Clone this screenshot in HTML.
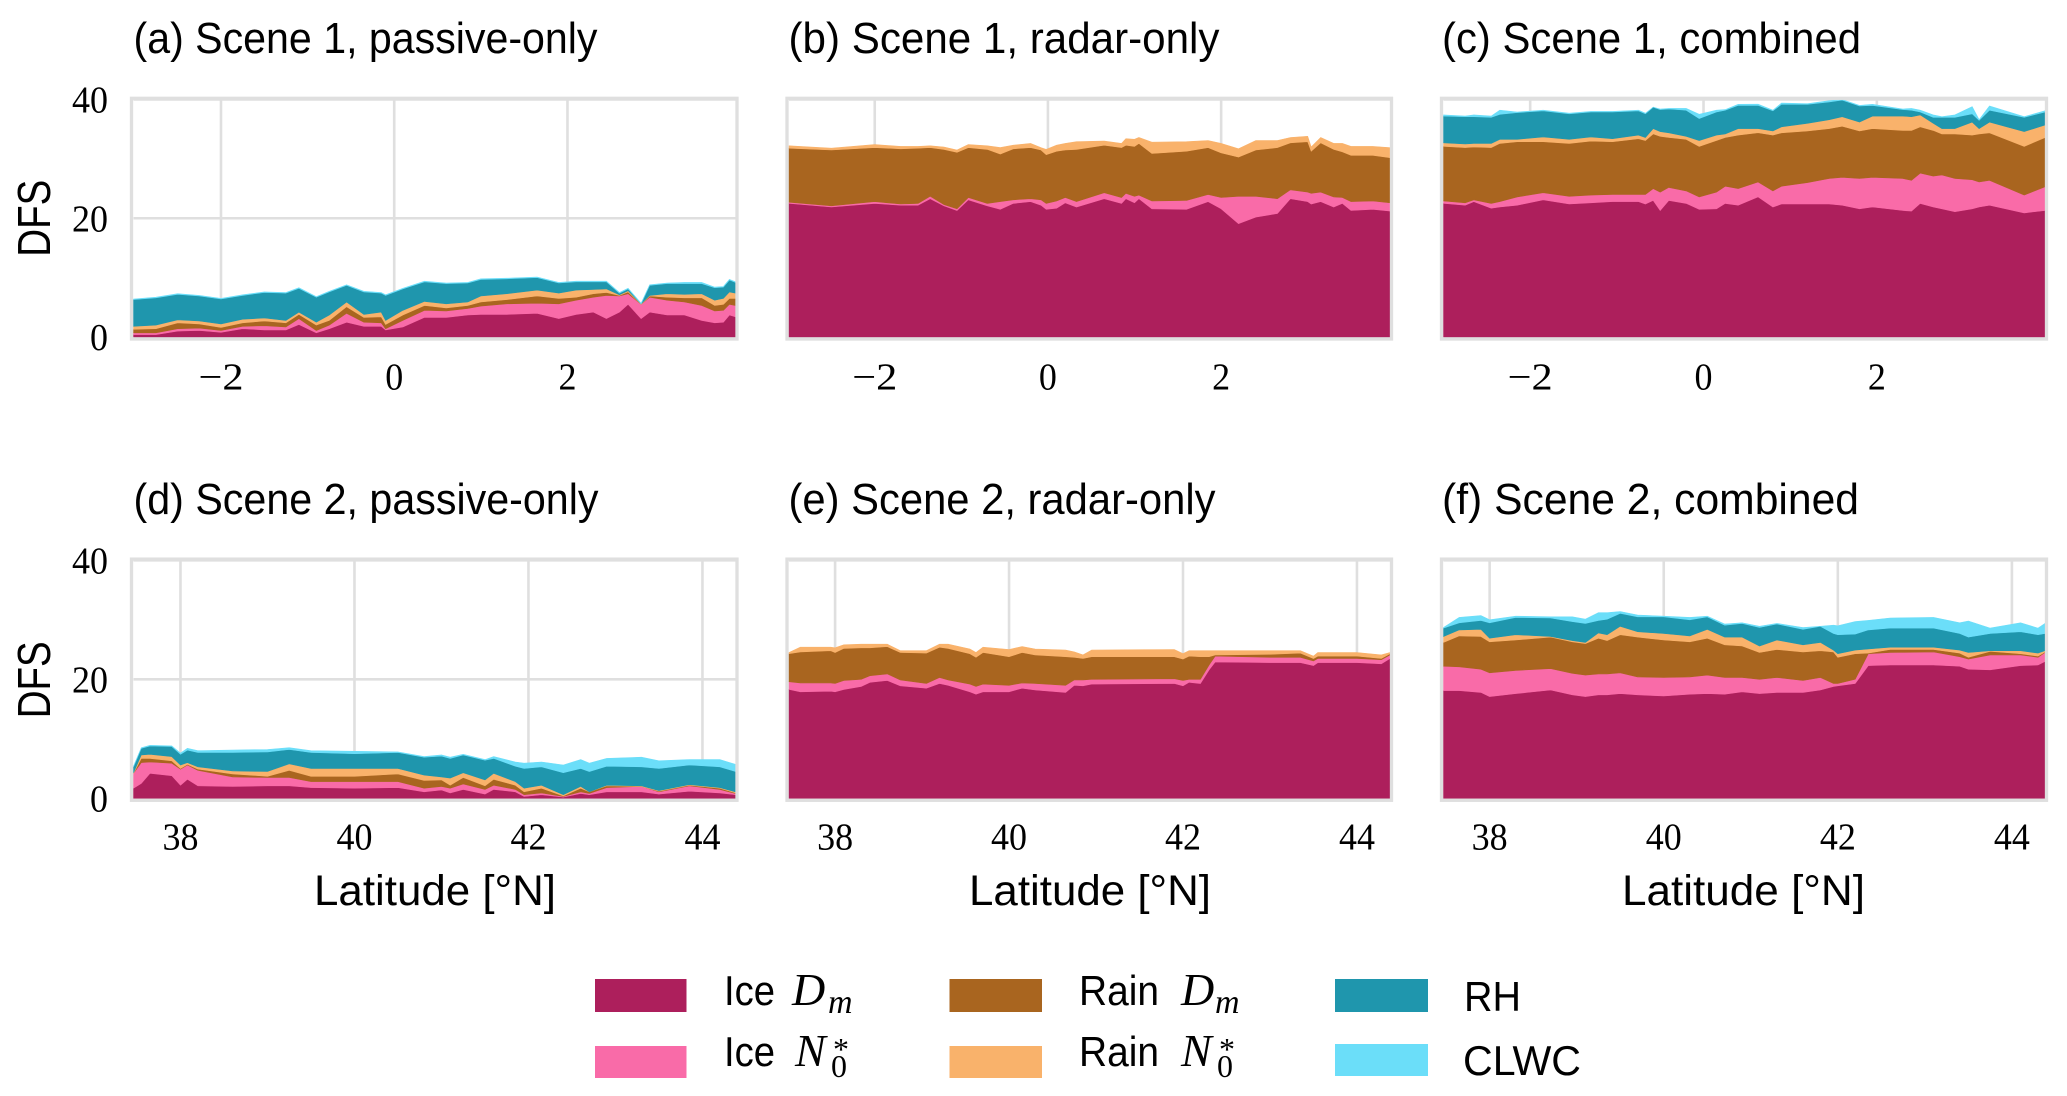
<!DOCTYPE html>
<html lang="en">
<head>
<meta charset="utf-8">
<title>Degrees of freedom for signal by latitude</title>
<style>
html,body{margin:0;padding:0;background:#fff;}
svg{display:block;}
.sans{font-family:"Liberation Sans",sans-serif;fill:#000;}
.serif{font-family:"Liberation Serif",serif;fill:#000;}
.math{font-family:"Liberation Serif",serif;font-style:italic;fill:#000;}
</style>
</head>
<body>
<svg id="figure" xmlns="http://www.w3.org/2000/svg" width="2067" height="1096" viewBox="0 0 2067 1096">
  <g id="panels"></g>
  <g>
    <text class="sans" x="133.5" y="53" font-size="44" textLength="464" lengthAdjust="spacingAndGlyphs">(a) Scene 1, passive-only</text>
    <text class="sans" x="788.5" y="53" font-size="44" textLength="431" lengthAdjust="spacingAndGlyphs">(b) Scene 1, radar-only</text>
    <text class="sans" x="1442" y="53" font-size="44" textLength="419" lengthAdjust="spacingAndGlyphs">(c) Scene 1, combined</text>
    <text class="sans" x="133.5" y="514" font-size="44" textLength="465" lengthAdjust="spacingAndGlyphs">(d) Scene 2, passive-only</text>
    <text class="sans" x="788.5" y="514" font-size="44" textLength="427" lengthAdjust="spacingAndGlyphs">(e) Scene 2, radar-only</text>
    <text class="sans" x="1442" y="514" font-size="44" textLength="417" lengthAdjust="spacingAndGlyphs">(f) Scene 2, combined</text>
  </g>
  <g>
    <text class="sans" transform="translate(50,256.7) rotate(-90)" font-size="46" textLength="77" lengthAdjust="spacingAndGlyphs">DFS</text>
    <text class="sans" transform="translate(50,718.3) rotate(-90)" font-size="46" textLength="77" lengthAdjust="spacingAndGlyphs">DFS</text>
    <text class="sans" x="314" y="905" font-size="43" textLength="242" lengthAdjust="spacingAndGlyphs">Latitude [°N]</text>
    <text class="sans" x="969" y="905" font-size="43" textLength="242" lengthAdjust="spacingAndGlyphs">Latitude [°N]</text>
    <text class="sans" x="1622" y="905" font-size="43" textLength="243" lengthAdjust="spacingAndGlyphs">Latitude [°N]</text>
  </g>
  <g>
    <g>
      <rect x="595" y="979" width="91.5" height="33" fill="#ad1f5c"/>
      <text class="sans" x="724" y="1005" font-size="42" textLength="51" lengthAdjust="spacingAndGlyphs">Ice</text>
      <text class="math" x="792" y="1005" font-size="46">D</text>
      <text class="math" x="828" y="1013" font-size="34">m</text>
    </g>
    <g>
      <rect x="595" y="1046" width="91.5" height="32" fill="#f96ba8"/>
      <text class="sans" x="724" y="1066" font-size="42" textLength="51" lengthAdjust="spacingAndGlyphs">Ice</text>
      <text class="math" x="795" y="1066" font-size="46">N</text>
      <text class="serif" x="831" y="1077" font-size="32">0</text>
      <text class="serif" x="833" y="1060" font-size="32">*</text>
    </g>
    <g>
      <rect x="949.5" y="979" width="92.5" height="33" fill="#a9651f"/>
      <text class="sans" x="1079" y="1005" font-size="42" textLength="80" lengthAdjust="spacingAndGlyphs">Rain</text>
      <text class="math" x="1181" y="1005" font-size="46">D</text>
      <text class="math" x="1215" y="1013" font-size="34">m</text>
    </g>
    <g>
      <rect x="949.5" y="1046" width="92.5" height="32" fill="#f9b26b"/>
      <text class="sans" x="1079" y="1066" font-size="42" textLength="80" lengthAdjust="spacingAndGlyphs">Rain</text>
      <text class="math" x="1181" y="1066" font-size="46">N</text>
      <text class="serif" x="1217" y="1077" font-size="32">0</text>
      <text class="serif" x="1219" y="1060" font-size="32">*</text>
    </g>
    <g>
      <rect x="1335" y="979" width="93" height="33" fill="#1f96ad"/>
      <text class="sans" x="1464" y="1011" font-size="42" textLength="57" lengthAdjust="spacingAndGlyphs">RH</text>
    </g>
    <g>
      <rect x="1335" y="1044" width="93" height="32" fill="#6bdef9"/>
      <text class="sans" x="1463" y="1075" font-size="42" textLength="118" lengthAdjust="spacingAndGlyphs">CLWC</text>
    </g>
  </g>
</svg>
<script>
// Panel (a) Scene 1, passive-only
const a_lat=[-3.01,-2.75,-2.5,-2.25,-2,-1.75,-1.5,-1.25,-1.1,-.9,-.75,-.55,-.35,-.15,-.1,.1,.35,.6,.85,1,1.3,1.65,1.9,2.1,2.3,2.45,2.6,2.7,2.85,2.95,3.15,3.35,3.55,3.7,3.8,3.87,3.94];
const a_iceDm=[.4,.4,1,1.1,.8,1.4,1.2,1.2,2.1,.7,1.4,2.5,1.8,1.8,1.2,1.7,3.3,3.3,3.7,3.8,3.8,4,3.1,3.8,4.2,3.1,4.2,5.5,3.1,4.2,3.7,3.7,2.8,2.4,2.5,3.7,3.4];
const a_iceN0=[.3,.3,.4,.4,.3,.4,.7,.5,1,.4,.6,1.5,.7,.6,.2,1.1,1.2,1.1,1.1,1.4,1.8,1.7,2.5,2.4,2.5,3.9,2.7,1.8,2.4,2.5,2.5,2.2,2.5,2,2,1.8,1.9];
const a_rainDm=[.6,.7,1,.7,.5,.6,.8,.7,.7,.9,.8,1.1,.8,1,.7,.9,.8,.5,.5,.7,.7,1.2,.9,.5,.6,.5,.1,.3,0,.2,.5,.7,1.3,.9,1,1,1.2];
const a_rainN0=[.5,.6,.5,.5,.6,.6,.5,.4,.4,.5,.9,.8,.5,.8,.7,.8,.7,.7,.6,1,1,1,.9,1.2,.7,.6,.1,.2,.1,.1,.6,.6,.7,.9,1,1.1,.9];
const a_rh=[4.5,4.6,4.3,4.2,4.2,4,4.3,4.6,4,4.2,3.9,2.8,3.8,3.2,4.2,3.6,3.3,3.4,3.2,2.8,2.5,2.1,1.7,1.4,1.3,1.2,.3,.3,0,1.7,1.7,1.8,1.7,2.1,1.9,2,1.8];
const a_clwc=[.1,.1,.1,.1,.1,.1,.1,.1,.1,.1,.1,.1,.1,.1,.1,.1,.1,.1,.1,.1,.1,.1,.1,.1,.1,.1,.1,.1,.1,.1,.1,.2,.2,.1,.1,.1,.1];

// Panel (b) Scene 1, radar-only
const b_lat=[-2.99,-2.5,-2,-1.7,-1.5,-1.36,-1.2,-1.05,-.92,-.7,-.55,-.4,-.2,-.08,-.02,.1,.2,.33,.65,.85,.9,1,1.05,1.2,1.6,1.85,2,2.2,2.4,2.65,2.8,3,3.04,3.15,3.3,3.4,3.5,3.75,3.95];
const b_iceDm=[22.5,21.9,22.5,22.2,22.2,23.3,22.1,21.3,23.1,22.1,21.5,22.5,22.8,22.2,21.5,21.7,22.6,21.9,23.3,22.5,23.3,22.6,23.3,21.6,21.5,22.8,21.6,19.1,20.2,20.8,23.3,22.8,22.4,22.8,21.9,22.5,21.3,21.5,21.2];
const b_iceN0=[.2,.2,.3,.2,.3,.4,.2,.3,.4,.4,1.3,.6,.5,.9,1,1.2,.9,.9,1,1,.9,1.1,.6,1.3,1.5,1.2,1.9,4.6,3.5,2.5,1.5,1.6,1.8,1.6,1.7,1,1.5,1.4,1.4];
const b_rainDm=[9.1,9.4,9.1,9.3,9.3,8.2,9.3,9.5,8.4,9.1,8,8.6,8.6,8.4,8.2,8.4,8,8.8,8,8.4,8.1,8.4,8.7,8,8.3,7.9,7.5,6.6,7.8,8.6,7.9,8.5,7.1,8.3,8,7.7,7.8,7.7,7.6];
const b_rainN0=[.4,.3,.5,.4,.3,.3,.4,.4,.5,.6,1.1,.6,.7,.4,.9,1,1.1,1.3,.7,.7,1.1,1.2,1,1.9,1.6,1.2,1.6,1.4,1.6,1.2,.9,.9,.7,.9,1,1.4,1.5,1.5,1.7];
const b_rh=[0,0,0,0,0,0,0,0,0,0,0,0,0,0,0,0,0,0,0,0,0,0,0,0,0,0,0,0,0,0,0,0,0,0,0,0,0,0,0];
const b_clwc=[0,0,0,0,0,0,0,0,0,0,0,0,0,0,0,0,0,0,0,0,0,0,0,0,0,0,0,0,0,0,0,0,0,0,0,0,0,0,0];

// Panel (c) Scene 1, combined
const c_lat=[-3,-2.75,-2.65,-2.45,-2.35,-2.15,-1.85,-1.55,-1.3,-1.05,-.75,-.67,-.58,-.5,-.4,-.2,-.05,.15,.25,.4,.63,.8,.9,1.2,1.45,1.6,1.8,1.95,2.3,2.4,2.5,2.65,2.75,2.9,3.1,3.18,3.3,3.7,3.94];
const c_iceDm=[22.5,22.2,22.8,21.7,21.9,22.2,23.1,22.4,22.6,22.8,22.8,22.4,23,21.3,23,22.5,21.5,21.6,22.5,22.2,23.6,21.9,22.4,22.4,22.4,22.2,21.6,21.9,21.3,21.2,22.5,21.9,21.6,21.1,21.6,21.9,22.2,20.9,21.3];
const c_iceN0=[.4,.4,.3,.8,.9,1.4,1.2,1.3,1.3,1.2,1.2,1.6,2,3.1,2.2,2.1,2.1,2.8,2.9,2.8,2.5,2.7,3,3.6,4.3,4.7,5.1,5,5.4,5.2,5.1,5.2,5.7,5.6,4.9,4.2,4.2,3,4];
const c_rainDm=[9.2,9.3,8.9,9.4,9.8,9.3,8.6,8.9,9.1,8.9,9.4,9.1,9.2,9.4,8.4,8.7,8.5,8.7,8.2,9,8.3,9.4,9,8.7,8.4,8.6,8,8.2,8.1,8.4,7.8,7.7,6.9,7.5,7.5,8.1,8,8.2,8.3];
const c_rainN0=[.6,.6,.6,.7,.7,.4,.8,.7,.7,.5,.6,.5,.9,.8,.8,.5,1,.9,.6,1.1,.7,.7,1,1.3,1.5,1.6,1.5,2.1,2.4,2.3,2,1.2,.9,.9,2.2,.9,1.8,2.5,2.1];
const c_rh=[4.5,4.6,4.5,4.4,4.2,4.5,4.4,4.3,4.2,4.5,4.1,4,3.6,3.7,4,4.4,3.7,3.9,4,3.9,3.9,3.4,3.8,3.2,3,2.8,2.7,1.8,1.1,1.1,.5,1,1.9,1.9,1.4,1.4,2,2.4,2.2];
const c_clwc=[.2,.1,.3,.2,.7,.1,.1,.1,.1,.1,.1,.1,0,.1,.1,.3,.7,.3,.1,.2,.2,.1,.2,.1,.2,.1,.1,.2,.1,.3,.3,.4,.1,.4,1.2,.1,.7,.1,.2];

// Panel (d) Scene 2, passive-only
const d_lat=[37.46,37.55,37.65,37.9,38,38.08,38.2,38.6,39,39.25,39.5,40,40.5,40.8,41,41.1,41.25,41.5,41.6,41.85,41.95,42.15,42.4,42.6,42.7,42.9,43.3,43.5,43.85,44.2,44.38];
const d_iceDm=[1.7,2.5,4.2,3.8,2.2,3.2,2.1,2,2.1,2.1,1.8,1.7,1.8,1.1,1.4,.9,1.5,.7,1.5,1.1,.3,.6,.2,.8,.6,1.1,1.1,.7,1.2,.9,.6];
const d_iceN0=[2.5,3.5,1.9,2.1,2.7,2.4,2.6,1.6,1.4,1.4,1,1.1,1,.6,.6,.8,.9,.8,.7,.4,.3,.3,.1,.3,.2,.7,.9,.4,.9,.6,.2];
const d_rainDm=[0,.7,.6,.4,.1,.1,.2,.5,.2,1.2,.9,.9,1.3,1.3,1.1,.5,1.1,.6,1,.7,.5,.8,.1,.6,.3,.3,0,.1,.1,.2,.1];
const d_rainN0=[.1,.6,.7,.7,.6,.3,.4,.5,.8,1.1,1.3,1.3,.9,.9,.5,1.2,.8,1,1,.6,.6,.5,.2,.3,0,.1,.1,.1,.1,.1,.2];
const d_rh=[1,1.1,1.4,1.7,1.8,2.1,2.4,3.1,3.3,2.4,2.7,2.5,2.7,3,3.5,3.3,3,3.3,2.5,2.6,3.3,3.1,3.7,3,3.4,3.2,3.2,3.7,3.3,3.5,3.4];
const d_clwc=[.1,.1,.1,.1,.2,.3,.3,.4,.4,.3,.3,.4,.1,.1,.2,.2,.1,.1,.3,.7,.9,.8,1.3,1.5,1.4,1.3,1.6,1.3,.9,1.2,1.2];

// Panel (e) Scene 2, radar-only
const e_lat=[37.47,37.6,37.95,38,38.1,38.3,38.4,38.6,38.75,39.05,39.2,39.3,39.55,39.62,39.7,40,40.15,40.3,40.65,40.75,40.85,40.95,41.9,42,42.07,42.2,42.3,42.37,43,43.35,43.5,43.55,44,44.28,44.38];
const e_iceDm=[18.3,17.9,18,17.9,18.3,18.8,19.5,19.8,18.9,18.5,19.3,19,17.9,17.5,17.9,17.9,18.5,18.2,17.8,19,18.9,19.2,19.3,18.9,19.5,19.3,21.6,22.9,22.8,22.8,22.3,22.8,22.8,22.6,23.5];
const e_iceN0=[1.3,1.5,1.4,1.4,1.5,1.2,1.1,1.1,1,.8,1,.9,1.3,1.3,1.3,1.1,.9,1.1,1.2,.9,1,.8,.8,.9,.5,.7,.8,1,.9,.9,.8,.7,.7,.7,.6];
const e_rainDm=[4.7,5.2,5.4,5.2,5.4,5.3,4.7,4.6,4.6,5.1,5.1,5.3,5.1,4.9,5.3,4.8,5.1,4.8,4.8,3.8,3.6,3.8,3.7,3.6,3.9,3.8,1.4,.2,.5,.7,.4,.4,.4,.2,.2];
const e_rainN0=[.2,.8,.6,.8,.6,.6,.6,.4,.3,.4,.5,.7,.8,.8,.9,1.2,1,1,1.1,.9,.6,1.1,1.2,.9,.9,1,1,.7,.6,.4,.4,.6,.6,.6,.2];
const e_rh=[0,0,0,0,0,0,0,0,0,0,0,0,0,0,0,0,0,0,0,0,0,0,0,0,0,0,0,0,0,0,0,0,0,0,0];
const e_clwc=[0,0,0,0,0,0,0,0,0,0,0,0,0,0,0,0,0,0,0,0,0,0,0,0,0,0,0,0,0,0,0,0,0,0,0];

// Panel (f) Scene 2, combined
const f_lat=[37.47,37.65,37.9,38,38.3,38.7,38.95,39.1,39.25,39.35,39.5,39.7,40,40.3,40.5,40.7,40.9,41.1,41.3,41.6,41.8,41.95,42,42.2,42.35,42.6,43.1,43.4,43.5,43.75,44.1,44.3,44.38];
const f_iceDm=[18.1,18.1,17.8,17.1,17.6,18.2,17.4,17.1,17.4,17.4,17.6,17.4,17.2,17.5,17.6,17.5,17.9,17.6,17.8,17.8,18.2,18.8,18.9,19.3,22.3,22.4,22.4,22.2,21.7,21.6,22.3,22.4,23];
const f_iceN0=[4.1,4,3.9,4,3.9,3.6,3.6,3.6,3.5,3.5,3.5,3,3.1,2.9,3.1,2.8,2.4,2.4,2.5,2,2.1,.5,.4,.7,2,2.1,2.2,1.6,1.7,2.5,1.8,1.3,1.5];
const f_rainDm=[4,5.2,5.5,5.2,5.1,5.3,5.3,5.3,6,5.6,6.4,6.7,6.3,5.9,6.2,5.5,5.3,4.5,4.7,4.8,4.5,5.3,4.4,4.3,.1,.5,.4,.6,.3,.6,.2,.2,.1];
const f_rainN0=[1,1,1.2,.6,.9,.1,.2,.2,.9,1,1.4,.9,1.1,1,1.5,1.3,1.5,1.1,1.6,1.2,1.4,.3,.6,.6,.7,.4,.4,.5,.8,.1,.5,.5,.2];
const f_rh=[1.4,1.2,1.5,2.6,2.9,3.1,3.2,3.2,2.1,2.6,2.2,2.5,2.8,2.7,2.1,2,2.3,3.1,2.7,2.6,2.7,2.8,3.2,2.7,3.2,3.2,3.2,2.8,2.6,2.9,3.2,3.1,2.9];
const f_clwc=[.1,.9,.8,.5,.2,.2,.8,.7,1.3,1.1,.3,.3,.1,.4,.1,.2,.1,.2,.1,.3,0,1.4,1.5,2.1,1.6,1.7,1.8,1.8,2.7,.9,1.5,1.1,1.7];

// Axis ticks
const yTickValues=[0,20,40];
const scene1XTicks=[-2,0,2];
const scene2XTicks=[38,40,42,44];

const seriesNames=['ice-dm','ice-n0','rain-dm','rain-n0','rh','clwc'];
const seriesColors=['#ad1f5c','#f96ba8','#a9651f','#f9b26b','#1f96ad','#6bdef9'];

const panelDefs=[
  {id:'a',lat:a_lat,series:[a_iceDm,a_iceN0,a_rainDm,a_rainN0,a_rh,a_clwc],ticks:scene1XTicks,xDomain:[-3.01,3.94],xRange:[133.5,735.5],row:0,yLabels:true},
  {id:'b',lat:b_lat,series:[b_iceDm,b_iceN0,b_rainDm,b_rainN0,b_rh,b_clwc],ticks:scene1XTicks,xDomain:[-2.99,3.95],xRange:[789,1390],row:0,yLabels:false},
  {id:'c',lat:c_lat,series:[c_iceDm,c_iceN0,c_rainDm,c_rainN0,c_rh,c_clwc],ticks:scene1XTicks,xDomain:[-3,3.94],xRange:[1443.5,2045],row:0,yLabels:false},
  {id:'d',lat:d_lat,series:[d_iceDm,d_iceN0,d_rainDm,d_rainN0,d_rh,d_clwc],ticks:scene2XTicks,xDomain:[37.46,44.38],xRange:[133.5,735.5],row:1,yLabels:true},
  {id:'e',lat:e_lat,series:[e_iceDm,e_iceN0,e_rainDm,e_rainN0,e_rh,e_clwc],ticks:scene2XTicks,xDomain:[37.47,44.38],xRange:[789,1390],row:1,yLabels:false},
  {id:'f',lat:f_lat,series:[f_iceDm,f_iceN0,f_rainDm,f_rainN0,f_rh,f_clwc],ticks:scene2XTicks,xDomain:[37.47,44.38],xRange:[1443.5,2045],row:1,yLabels:false}
];
const rowLayouts=[
  {y0:337,y40:99.5,xLabelBaseline:389.3},
  {y0:798.3,y40:560.3,xLabelBaseline:849.5}
];

const NS='http://www.w3.org/2000/svg';
const GRID='#dfdfdf';
const panelsRoot=document.getElementById('panels');

function linear(domain,range){
  return function(v){return range[0]+(v-domain[0])*(range[1]-range[0])/(domain[1]-domain[0]);};
}
function make(tag,parent){
  const el=document.createElementNS(NS,tag);
  parent.appendChild(el);
  return el;
}

panelDefs.forEach(function(p){
  const layout=rowLayouts[p.row];
  const xScale=linear(p.xDomain,p.xRange);
  const yScale=linear([0,40],[layout.y0,layout.y40]);

  const g=make('g',panelsRoot);
  
  

  // grid lines
  yTickValues.forEach(function(v){
    const line=make('line',g);
    
    
    line.setAttribute('x1',p.xRange[0]);
    line.setAttribute('x2',p.xRange[1]);
    line.setAttribute('y1',yScale(v));
    line.setAttribute('y2',yScale(v));
    line.setAttribute('stroke',GRID);
    line.setAttribute('stroke-width','2.6');
  });
  p.ticks.forEach(function(v){
    const line=make('line',g);
    
    
    line.setAttribute('x1',xScale(v));
    line.setAttribute('x2',xScale(v));
    line.setAttribute('y1',yScale(0));
    line.setAttribute('y2',yScale(40));
    line.setAttribute('stroke',GRID);
    line.setAttribute('stroke-width','2.6');
  });

  // stacked areas
  const base=p.lat.map(function(){return 0;});
  p.series.forEach(function(values,si){
    const lower=base.slice();
    values.forEach(function(v,i){base[i]+=v;});
    const upper=base.slice();
    let d='';
    p.lat.forEach(function(l,i){
      d+=(i===0?'M':'L')+xScale(l).toFixed(1)+' '+yScale(upper[i]).toFixed(1);
    });
    for(let i=p.lat.length-1;i>=0;i--){
      d+='L'+xScale(p.lat[i]).toFixed(1)+' '+yScale(lower[i]).toFixed(1);
    }
    d+='Z';
    const path=make('path',g);
    
    
    path.setAttribute('d',d);
    path.setAttribute('fill',seriesColors[si]);
    path.setAttribute('stroke',values.some(function(v){return v>0;})?seriesColors[si]:'none');
    path.setAttribute('stroke-width','0.6');
  });

  // frame
  const frame=make('rect',g);
  
  
  frame.setAttribute('x',p.xRange[0]-2);
  frame.setAttribute('y',layout.y40-1.2);
  frame.setAttribute('width',p.xRange[1]-p.xRange[0]+3.5);
  frame.setAttribute('height',layout.y0-layout.y40+3.2);
  frame.setAttribute('fill','none');
  frame.setAttribute('stroke',GRID);
  frame.setAttribute('stroke-width','3.3');

  // x tick labels
  p.ticks.forEach(function(v){
    const t=make('text',g);
    
    
    t.setAttribute('class','serif');
    t.setAttribute('x',xScale(v));
    t.setAttribute('y',layout.xLabelBaseline);
    t.setAttribute('font-size','38');
    t.setAttribute('text-anchor','middle');
    t.setAttribute('textLength',v<0?45:String(v).length*18);
    t.setAttribute('lengthAdjust','spacingAndGlyphs');
    t.textContent=v<0?'\u2212'+Math.abs(v):String(v);
  });

  // y tick labels
  if(p.yLabels){
    yTickValues.forEach(function(v){
      const t=make('text',g);
      
      
      t.setAttribute('class','serif');
      t.setAttribute('x',108);
      t.setAttribute('y',yScale(v)+13);
      t.setAttribute('font-size','38');
      t.setAttribute('text-anchor','end');
      t.setAttribute('textLength',String(v).length*18);
      t.setAttribute('lengthAdjust','spacingAndGlyphs');
      t.textContent=String(v);
    });
  }
});
</script>
</body>
</html>
